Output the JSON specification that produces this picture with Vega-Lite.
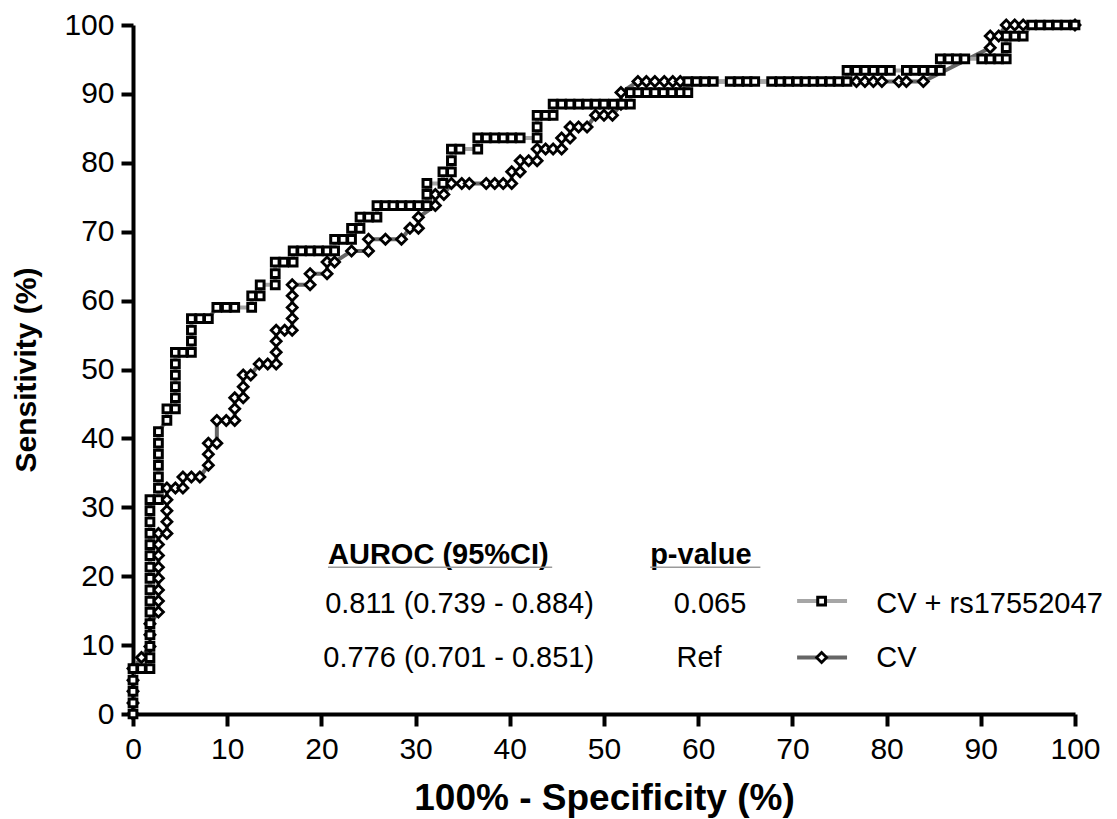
{
  "$schema": "https://vega.github.io/schema/vega-lite/v6.json",
  "width": 942,
  "height": 689,
  "autosize": {"type": "none"},
  "padding": {"left": 133, "top": 25, "right": 42, "bottom": 105},
  "background": "white",
  "config": {
    "view": {"stroke": null},
    "font": "Liberation Sans",
    "axis": {
      "grid": false,
      "domainColor": "black",
      "domainWidth": 4,
      "tickColor": "black",
      "tickWidth": 4,
      "tickSize": 12,
      "labelFont": "Liberation Sans",
      "labelFontSize": 30,
      "labelColor": "black",
      "labelFlush": false,
      "labelOverlap": false,
      "titleFont": "Liberation Sans",
      "titleFontSize": 30,
      "titleFontWeight": "bold",
      "titleColor": "black"
    }
  },
  "datasets": {
    "sq": [
      {"o":1,"x":0,"y":0},{"o":2,"x":0,"y":1.6},{"o":3,"x":0,"y":3.3},{"o":4,"x":0,"y":4.9},{"o":5,"x":0,"y":6.6},
      {"o":6,"x":0.9,"y":6.6},{"o":7,"x":1.8,"y":6.6},{"o":8,"x":1.8,"y":8.2},{"o":9,"x":1.8,"y":9.8},{"o":10,"x":1.8,"y":11.5},
      {"o":11,"x":1.8,"y":13.1},{"o":12,"x":1.8,"y":14.8},{"o":13,"x":1.8,"y":16.4},{"o":14,"x":1.8,"y":18.0},{"o":15,"x":1.8,"y":19.7},
      {"o":16,"x":1.8,"y":21.3},{"o":17,"x":1.8,"y":23.0},{"o":18,"x":1.8,"y":24.6},{"o":19,"x":1.8,"y":26.2},{"o":20,"x":1.8,"y":27.9},
      {"o":21,"x":1.8,"y":29.5},{"o":22,"x":1.8,"y":31.1},{"o":23,"x":2.7,"y":31.1},{"o":24,"x":2.7,"y":32.8},{"o":25,"x":2.7,"y":34.4},
      {"o":26,"x":2.7,"y":36.1},{"o":27,"x":2.7,"y":37.7},{"o":28,"x":2.7,"y":39.3},{"o":29,"x":2.7,"y":41.0},{"o":30,"x":3.6,"y":42.6},
      {"o":31,"x":3.6,"y":44.3},{"o":32,"x":4.5,"y":44.3},{"o":33,"x":4.5,"y":45.9},{"o":34,"x":4.5,"y":47.5},{"o":35,"x":4.5,"y":49.2},
      {"o":36,"x":4.5,"y":50.8},{"o":37,"x":4.5,"y":52.5},{"o":38,"x":5.3,"y":52.5},{"o":39,"x":6.2,"y":52.5},{"o":40,"x":6.2,"y":54.1},
      {"o":41,"x":6.2,"y":55.7},{"o":42,"x":6.2,"y":57.4},{"o":43,"x":7.1,"y":57.4},{"o":44,"x":8.0,"y":57.4},{"o":45,"x":8.9,"y":59.0},
      {"o":46,"x":9.9,"y":59.0},{"o":47,"x":10.8,"y":59.0},{"o":48,"x":12.6,"y":59.0},{"o":49,"x":12.6,"y":60.7},{"o":50,"x":13.5,"y":60.7},
      {"o":51,"x":13.5,"y":62.3},{"o":52,"x":15.1,"y":62.3},{"o":53,"x":15.1,"y":63.9},{"o":54,"x":15.1,"y":65.6},{"o":55,"x":16.0,"y":65.6},
      {"o":56,"x":17.0,"y":65.6},{"o":57,"x":17.0,"y":67.2},{"o":58,"x":17.9,"y":67.2},{"o":59,"x":18.8,"y":67.2},{"o":60,"x":19.7,"y":67.2},
      {"o":61,"x":20.6,"y":67.2},{"o":62,"x":21.4,"y":67.2},{"o":63,"x":21.4,"y":68.9},{"o":64,"x":22.3,"y":68.9},{"o":65,"x":23.2,"y":68.9},
      {"o":66,"x":23.2,"y":70.5},{"o":67,"x":24.1,"y":70.5},{"o":68,"x":24.1,"y":72.1},{"o":69,"x":25.0,"y":72.1},{"o":70,"x":25.9,"y":72.1},
      {"o":71,"x":25.9,"y":73.8},{"o":72,"x":26.8,"y":73.8},{"o":73,"x":27.6,"y":73.8},{"o":74,"x":28.5,"y":73.8},{"o":75,"x":29.4,"y":73.8},
      {"o":76,"x":30.3,"y":73.8},{"o":77,"x":31.2,"y":73.8},{"o":78,"x":31.2,"y":75.4},{"o":79,"x":31.2,"y":77.0},{"o":80,"x":32.9,"y":77.0},
      {"o":81,"x":32.9,"y":78.7},{"o":82,"x":33.8,"y":78.7},{"o":83,"x":33.8,"y":80.3},{"o":84,"x":33.8,"y":82.0},{"o":85,"x":34.7,"y":82.0},
      {"o":86,"x":36.6,"y":82.0},{"o":87,"x":36.6,"y":83.6},{"o":88,"x":37.5,"y":83.6},{"o":89,"x":38.4,"y":83.6},{"o":90,"x":39.3,"y":83.6},
      {"o":91,"x":40.2,"y":83.6},{"o":92,"x":41.1,"y":83.6},{"o":93,"x":42.9,"y":83.6},{"o":94,"x":42.9,"y":85.2},{"o":95,"x":42.9,"y":86.9},
      {"o":96,"x":43.8,"y":86.9},{"o":97,"x":44.6,"y":86.9},{"o":98,"x":44.6,"y":88.5},{"o":99,"x":45.5,"y":88.5},{"o":100,"x":46.4,"y":88.5},
      {"o":101,"x":47.3,"y":88.5},{"o":102,"x":48.2,"y":88.5},{"o":103,"x":49.1,"y":88.5},{"o":104,"x":50.0,"y":88.5},{"o":105,"x":51.0,"y":88.5},
      {"o":106,"x":51.9,"y":88.5},{"o":107,"x":52.8,"y":88.5},{"o":108,"x":52.8,"y":90.2},{"o":109,"x":53.6,"y":90.2},{"o":110,"x":54.5,"y":90.2},
      {"o":111,"x":55.4,"y":90.2},{"o":112,"x":56.3,"y":90.2},{"o":113,"x":57.2,"y":90.2},{"o":114,"x":58.1,"y":90.2},{"o":115,"x":58.9,"y":90.2},
      {"o":116,"x":58.9,"y":91.8},{"o":117,"x":59.8,"y":91.8},{"o":118,"x":60.7,"y":91.8},{"o":119,"x":61.6,"y":91.8},{"o":120,"x":63.4,"y":91.8},
      {"o":121,"x":64.3,"y":91.8},{"o":122,"x":65.2,"y":91.8},{"o":123,"x":66.0,"y":91.8},{"o":124,"x":67.8,"y":91.8},{"o":125,"x":68.7,"y":91.8},
      {"o":126,"x":69.6,"y":91.8},{"o":127,"x":70.5,"y":91.8},{"o":128,"x":71.4,"y":91.8},{"o":129,"x":72.2,"y":91.8},{"o":130,"x":73.1,"y":91.8},
      {"o":131,"x":74.0,"y":91.8},{"o":132,"x":74.9,"y":91.8},{"o":133,"x":75.8,"y":91.8},{"o":134,"x":75.8,"y":93.4},{"o":135,"x":76.8,"y":93.4},
      {"o":136,"x":77.7,"y":93.4},{"o":137,"x":78.6,"y":93.4},{"o":138,"x":79.5,"y":93.4},{"o":139,"x":80.4,"y":93.4},{"o":140,"x":82.1,"y":93.4},
      {"o":141,"x":83.0,"y":93.4},{"o":142,"x":83.9,"y":93.4},{"o":143,"x":84.8,"y":93.4},{"o":144,"x":85.7,"y":93.4},{"o":145,"x":85.7,"y":95.1},
      {"o":146,"x":86.6,"y":95.1},{"o":147,"x":87.4,"y":95.1},{"o":148,"x":88.3,"y":95.1},{"o":149,"x":90.1,"y":95.1},{"o":150,"x":91.0,"y":95.1},
      {"o":151,"x":91.9,"y":95.1},{"o":152,"x":92.7,"y":95.1},{"o":153,"x":92.7,"y":96.7},{"o":154,"x":92.7,"y":98.4},{"o":155,"x":93.6,"y":98.4},
      {"o":156,"x":94.5,"y":98.4},{"o":157,"x":95.4,"y":100},{"o":158,"x":96.3,"y":100},{"o":159,"x":97.2,"y":100},{"o":160,"x":98.1,"y":100},
      {"o":161,"x":99.0,"y":100},{"o":162,"x":100,"y":100}
    ],
    "di": [
      {"o":1,"x":0,"y":0},{"o":2,"x":0,"y":1.6},{"o":3,"x":0,"y":3.3},{"o":4,"x":0,"y":4.9},{"o":5,"x":0,"y":6.6},
      {"o":6,"x":0.9,"y":8.2},{"o":7,"x":1.8,"y":9.8},{"o":8,"x":1.8,"y":11.5},{"o":9,"x":1.8,"y":13.1},{"o":10,"x":2.7,"y":14.8},
      {"o":11,"x":2.7,"y":16.4},{"o":12,"x":2.7,"y":18.0},{"o":13,"x":2.7,"y":19.7},{"o":14,"x":2.7,"y":21.3},{"o":15,"x":2.7,"y":23.0},
      {"o":16,"x":2.7,"y":24.6},{"o":17,"x":2.7,"y":26.2},{"o":18,"x":3.6,"y":26.2},{"o":19,"x":3.6,"y":27.9},{"o":20,"x":3.6,"y":29.5},
      {"o":21,"x":3.6,"y":31.1},{"o":22,"x":3.6,"y":32.8},{"o":23,"x":4.5,"y":32.8},{"o":24,"x":5.3,"y":32.8},{"o":25,"x":5.3,"y":34.4},
      {"o":26,"x":6.2,"y":34.4},{"o":27,"x":7.1,"y":34.4},{"o":28,"x":8.0,"y":36.1},{"o":29,"x":8.0,"y":37.7},{"o":30,"x":8.0,"y":39.3},
      {"o":31,"x":8.9,"y":39.3},{"o":32,"x":8.9,"y":42.6},{"o":33,"x":9.9,"y":42.6},{"o":34,"x":10.8,"y":42.6},{"o":35,"x":10.8,"y":44.3},
      {"o":36,"x":10.8,"y":45.9},{"o":37,"x":11.7,"y":45.9},{"o":38,"x":11.7,"y":47.5},{"o":39,"x":11.7,"y":49.2},{"o":40,"x":12.5,"y":49.2},
      {"o":41,"x":13.4,"y":50.8},{"o":42,"x":14.3,"y":50.8},{"o":43,"x":15.2,"y":50.8},{"o":44,"x":15.2,"y":52.5},{"o":45,"x":15.2,"y":54.1},
      {"o":46,"x":15.2,"y":55.7},{"o":47,"x":16.1,"y":55.7},{"o":48,"x":16.9,"y":55.7},{"o":49,"x":16.9,"y":57.4},{"o":50,"x":16.9,"y":59.0},
      {"o":51,"x":16.9,"y":60.7},{"o":52,"x":16.9,"y":62.3},{"o":53,"x":18.8,"y":62.3},{"o":54,"x":18.8,"y":63.9},{"o":55,"x":20.6,"y":63.9},
      {"o":56,"x":20.6,"y":65.6},{"o":57,"x":21.4,"y":65.6},{"o":58,"x":23.2,"y":67.2},{"o":59,"x":25.0,"y":67.2},{"o":60,"x":25.0,"y":68.9},
      {"o":61,"x":26.8,"y":68.9},{"o":62,"x":28.5,"y":68.9},{"o":63,"x":29.4,"y":70.5},{"o":64,"x":30.3,"y":70.5},{"o":65,"x":30.3,"y":72.1},
      {"o":66,"x":32.1,"y":73.8},{"o":67,"x":32.1,"y":75.4},{"o":68,"x":33.0,"y":75.4},{"o":69,"x":33.8,"y":77.0},{"o":70,"x":34.9,"y":77.0},
      {"o":71,"x":35.7,"y":77.0},{"o":72,"x":37.5,"y":77.0},{"o":73,"x":38.4,"y":77.0},{"o":74,"x":39.3,"y":77.0},{"o":75,"x":40.2,"y":77.0},
      {"o":76,"x":40.2,"y":78.7},{"o":77,"x":41.1,"y":78.7},{"o":78,"x":41.1,"y":80.3},{"o":79,"x":42.0,"y":80.3},{"o":80,"x":42.9,"y":80.3},
      {"o":81,"x":42.9,"y":82.0},{"o":82,"x":43.8,"y":82.0},{"o":83,"x":44.6,"y":82.0},{"o":84,"x":45.5,"y":82.0},{"o":85,"x":45.5,"y":83.6},
      {"o":86,"x":46.4,"y":83.6},{"o":87,"x":46.4,"y":85.2},{"o":88,"x":47.3,"y":85.2},{"o":89,"x":48.2,"y":85.2},{"o":90,"x":49.1,"y":86.9},
      {"o":91,"x":50.0,"y":86.9},{"o":92,"x":50.9,"y":86.9},{"o":93,"x":51.8,"y":88.5},{"o":94,"x":51.8,"y":90.2},{"o":95,"x":53.6,"y":91.8},
      {"o":96,"x":54.5,"y":91.8},{"o":97,"x":55.4,"y":91.8},{"o":98,"x":56.4,"y":91.8},{"o":99,"x":57.3,"y":91.8},{"o":100,"x":58.1,"y":91.8},
      {"o":101,"x":76.8,"y":91.8},{"o":102,"x":77.7,"y":91.8},{"o":103,"x":78.6,"y":91.8},{"o":104,"x":79.5,"y":91.8},{"o":105,"x":81.3,"y":91.8},
      {"o":106,"x":82.1,"y":91.8},{"o":107,"x":83.9,"y":91.8},{"o":108,"x":91.0,"y":96.7},{"o":109,"x":91.0,"y":98.4},{"o":110,"x":91.9,"y":98.4},
      {"o":111,"x":92.7,"y":100},{"o":112,"x":93.6,"y":100},{"o":113,"x":94.5,"y":100},{"o":114,"x":100,"y":100}
    ],
    "table": [
      {"model": "CV + rs17552047", "auroc": "0.811 (0.739 - 0.884)", "p": "0.065"},
      {"model": "CV", "auroc": "0.776 (0.701 - 0.851)", "p": "Ref"}
    ],
    "head": [
      {"h": "AUROC (95%CI)", "col": "auroc"},
      {"h": "p-value", "col": "p"}
    ]
  },
  "layer": [
    {
      "data": {"name": "di"},
      "mark": {"type": "line", "color": "#666666", "strokeWidth": 4},
      "encoding": {
        "x": {"field": "x", "type": "quantitative", "scale": {"domain": [0, 100], "nice": false},
              "axis": {"title": "100% - Specificity (%)", "titleFontSize": 37, "values": [0,10,20,30,40,50,60,70,80,90,100], "labelPadding": 8, "titlePadding": 16}},
        "y": {"field": "y", "type": "quantitative", "scale": {"domain": [0, 100], "nice": false},
              "axis": {"title": "Sensitivity (%)", "values": [0,10,20,30,40,50,60,70,80,90,100], "labelPadding": 7, "titlePadding": 22}},
        "order": {"field": "o", "type": "quantitative"}
      }
    },
    {
      "data": {"name": "sq"},
      "mark": {"type": "line", "color": "#a6a6a6", "strokeWidth": 4},
      "encoding": {
        "x": {"field": "x", "type": "quantitative"},
        "y": {"field": "y", "type": "quantitative"},
        "order": {"field": "o", "type": "quantitative"}
      }
    },
    {
      "data": {"name": "di"},
      "mark": {"type": "point", "shape": "diamond", "filled": true, "fill": "white", "stroke": "black", "strokeWidth": 2.8, "size": 100, "opacity": 1},
      "encoding": {
        "x": {"field": "x", "type": "quantitative"},
        "y": {"field": "y", "type": "quantitative"}
      }
    },
    {
      "data": {"name": "sq"},
      "mark": {"type": "point", "shape": "square", "filled": true, "fill": "white", "stroke": "black", "strokeWidth": 3, "size": 60, "opacity": 1},
      "encoding": {
        "x": {"field": "x", "type": "quantitative"},
        "y": {"field": "y", "type": "quantitative"}
      }
    },
    {
      "data": {"name": "head"},
      "transform": [{"filter": "datum.col == 'auroc'"}],
      "mark": {"type": "text", "align": "left", "baseline": "alphabetic", "fontSize": 29, "fontWeight": "bold", "font": "Liberation Sans", "color": "black"},
      "encoding": {"x": {"datum": 20.7}, "y": {"datum": 21.8}, "text": {"field": "h"}}
    },
    {
      "data": {"name": "head"},
      "transform": [{"filter": "datum.col == 'p'"}],
      "mark": {"type": "text", "align": "left", "baseline": "alphabetic", "fontSize": 29, "fontWeight": "bold", "font": "Liberation Sans", "color": "black"},
      "encoding": {"x": {"datum": 54.9}, "y": {"datum": 21.8}, "text": {"field": "h"}}
    },
    {
      "data": {"name": "head"},
      "transform": [{"filter": "datum.col == 'auroc'"}],
      "mark": {"type": "rule", "color": "#9a9a9a", "strokeWidth": 1.5},
      "encoding": {"x": {"datum": 20.7}, "x2": {"datum": 44.5}, "y": {"datum": 21.3}}
    },
    {
      "data": {"name": "head"},
      "transform": [{"filter": "datum.col == 'p'"}],
      "mark": {"type": "rule", "color": "#9a9a9a", "strokeWidth": 1.5},
      "encoding": {"x": {"datum": 54.9}, "x2": {"datum": 66.6}, "y": {"datum": 21.3}}
    },
    {
      "data": {"name": "table"},
      "transform": [{"filter": "datum.model == 'CV + rs17552047'"}],
      "layer": [
        {"mark": {"type": "text", "align": "left", "baseline": "alphabetic", "fontSize": 29, "font": "Liberation Sans", "color": "black"},
         "encoding": {"x": {"datum": 20.4}, "y": {"datum": 14.7}, "text": {"field": "auroc"}}},
        {"mark": {"type": "text", "align": "left", "baseline": "alphabetic", "fontSize": 29, "font": "Liberation Sans", "color": "black"},
         "encoding": {"x": {"datum": 57.4}, "y": {"datum": 14.7}, "text": {"field": "p"}}},
        {"mark": {"type": "rule", "color": "#a6a6a6", "strokeWidth": 4},
         "encoding": {"x": {"datum": 70.5}, "x2": {"datum": 75.8}, "y": {"datum": 16.4}}},
        {"mark": {"type": "point", "shape": "square", "filled": true, "fill": "white", "stroke": "black", "strokeWidth": 3, "size": 60, "opacity": 1},
         "encoding": {"x": {"datum": 73.1}, "y": {"datum": 16.4}}},
        {"mark": {"type": "text", "align": "left", "baseline": "alphabetic", "fontSize": 29, "font": "Liberation Sans", "color": "black"},
         "encoding": {"x": {"datum": 78.9}, "y": {"datum": 14.7}, "text": {"field": "model"}}}
      ]
    },
    {
      "data": {"name": "table"},
      "transform": [{"filter": "datum.model == 'CV'"}],
      "layer": [
        {"mark": {"type": "text", "align": "left", "baseline": "alphabetic", "fontSize": 29, "font": "Liberation Sans", "color": "black"},
         "encoding": {"x": {"datum": 20.2}, "y": {"datum": 6.8}, "text": {"field": "auroc"}}},
        {"mark": {"type": "text", "align": "left", "baseline": "alphabetic", "fontSize": 29, "font": "Liberation Sans", "color": "black"},
         "encoding": {"x": {"datum": 57.7}, "y": {"datum": 6.8}, "text": {"field": "p"}}},
        {"mark": {"type": "rule", "color": "#666666", "strokeWidth": 4},
         "encoding": {"x": {"datum": 70.5}, "x2": {"datum": 75.8}, "y": {"datum": 8.2}}},
        {"mark": {"type": "point", "shape": "diamond", "filled": true, "fill": "white", "stroke": "black", "strokeWidth": 2.8, "size": 100, "opacity": 1},
         "encoding": {"x": {"datum": 73.1}, "y": {"datum": 8.2}}},
        {"mark": {"type": "text", "align": "left", "baseline": "alphabetic", "fontSize": 29, "font": "Liberation Sans", "color": "black"},
         "encoding": {"x": {"datum": 78.9}, "y": {"datum": 6.8}, "text": {"field": "model"}}}
      ]
    }
  ]
}
